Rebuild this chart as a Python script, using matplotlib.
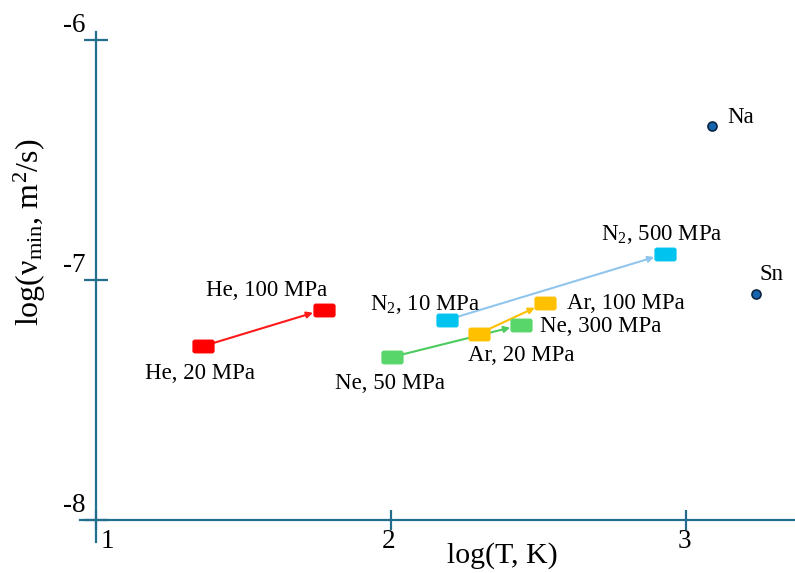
import matplotlib
matplotlib.use('Agg')
import matplotlib.pyplot as plt
import matplotlib.transforms as mtransforms
from matplotlib.path import Path

# data
start_logT = [1.365, 2.190, 2.002, 2.298]   # He 20, N2 10, Ne 50, Ar 20 MPa
start_lognu = [-7.274, -7.165, -7.320, -7.222]
end_logT = [1.772, 2.927, 2.440, 2.521]     # He 100, N2 500, Ne 300, Ar 100 MPa
end_lognu = [-7.122, -6.890, -7.186, -7.095]
start_labels = ['He, 20 MPa', 'N$_\\mathrm{2}$, 10 MPa', 'Ne, 50 MPa', 'Ar, 20 MPa']
end_labels = ['He, 100 MPa', 'N$_\\mathrm{2}$, 500 MPa', 'Ne, 300 MPa', 'Ar, 100 MPa']
metals = ['Na', 'Sn']
metal_logT = [3.086, 3.235]
metal_lognu = [-6.357, -7.057]
x_ticks = [1, 2, 3]
y_ticks = [-8, -7, -6]

# styles
marker_colors = ['#ff0000', '#00c3f0', '#58d66a', '#ffc000']
arrow_colors = ['#ff1a1a', '#90c6ee', '#4ccb5e', '#ffc000']
axis_color = '#236e8e'
# label placement, offsets in pixels (ha, dx, dy)
start_pos = [('center', -3, -27), ('center', -22, 15), ('center', -2, -26), ('center', 42, -22)]
end_pos = [('center', -57, 19), ('center', -3, 19), ('left', 19, -2), ('left', 22, 0)]
metal_pos = [('left', 15, 8), ('left', 4, 19)]

plt.rcParams['font.family'] = ['Liberation Serif', 'DejaVu Serif']
plt.rcParams['mathtext.fontset'] = 'custom'
plt.rcParams['mathtext.rm'] = 'Liberation Serif'
plt.rcParams['mathtext.it'] = 'Liberation Serif:italic'

fig = plt.figure(figsize=(7.95, 5.73), dpi=100)
ax = fig.add_axes([0, 0, 1, 1])
ax.set_xlim(0.6768, 3.3672)
ax.set_ylim(-8.2196, -5.832)
ax.patch.set_alpha(0)

for s in ['top', 'right']:
    ax.spines[s].set_visible(False)
ax.spines['left'].set_position(('data', 1))
ax.spines['bottom'].set_position(('data', -8))
ax.spines['left'].set_bounds(-8.09, -5.965)
ax.spines['bottom'].set_bounds(0.9475, 3.3672)
for s in ['left', 'bottom']:
    ax.spines[s].set_color(axis_color)
    ax.spines[s].set_linewidth(1.6)

ax.set_xticks(x_ticks)
ax.set_xticklabels([str(t) for t in x_ticks])
ax.set_yticks(y_ticks)
ax.set_yticklabels([str(t) for t in y_ticks])
ax.tick_params(axis='y', direction='inout', length=17.3, width=1.6, color=axis_color, labelsize=19.5, pad=3)
ax.tick_params(axis='x', direction='inout', length=14.4, width=1.6, color=axis_color, labelsize=19.5, pad=3)

def shift(dx, dy):
    return mtransforms.ScaledTranslation(dx / 100, dy / 100, fig.dpi_scale_trans)

for lab in ax.get_yticklabels():
    lab.set_transform(lab.get_transform() + shift(6, 18))
for lab, t in zip(ax.get_xticklabels(), x_ticks):
    dx = 12 if t == 1 else -2
    lab.set_transform(lab.get_transform() + shift(dx, 5))

# rounded-ish rectangle marker
w, h, r = 1.0, 0.6, 0.12
verts = [(-w + r, -h), (w - r, -h), (w, -h + r), (w, h - r), (w - r, h),
         (-w + r, h), (-w, h - r), (-w, -h + r), (-w + r, -h)]
rect = Path(verts)

for i in range(len(start_logT)):
    ax.annotate('', xy=(end_logT[i], end_lognu[i]), xytext=(start_logT[i], start_lognu[i]),
                arrowprops=dict(arrowstyle='-|>', color=arrow_colors[i], lw=1.5,
                                shrinkA=7, shrinkB=8, mutation_scale=9), zorder=2)
    ax.plot([start_logT[i], end_logT[i]], [start_lognu[i], end_lognu[i]], linestyle='none',
            marker=rect, markersize=15, color=marker_colors[i], zorder=3)
    ha, dx, dy = start_pos[i]
    ax.annotate(start_labels[i], (start_logT[i], start_lognu[i]), xytext=(dx, dy),
                textcoords='offset pixels', ha=ha, va='center', fontsize=16.5)
    ha, dx, dy = end_pos[i]
    ax.annotate(end_labels[i], (end_logT[i], end_lognu[i]), xytext=(dx, dy),
                textcoords='offset pixels', ha=ha, va='center', fontsize=16.5)

ax.plot(metal_logT, metal_lognu, linestyle='none', marker='o', markersize=6.5,
        markerfacecolor='#1565b0', markeredgecolor='#0a2540', markeredgewidth=1.2, zorder=3)
for i, m in enumerate(metals):
    ha, dx, dy = metal_pos[i]
    ax.annotate(m, (metal_logT[i], metal_lognu[i]), xytext=(dx, dy),
                textcoords='offset pixels', ha=ha, va='center', fontsize=16.5)

fig.text(502 / 795, 1 - 556 / 573, 'log(T, K)', ha='center', va='center', fontsize=21.5)
fig.text(30 / 795, 1 - 232 / 573, 'log(ν$_\\mathrm{min}$, m$^\\mathrm{2}$/s)', ha='center', va='center',
         rotation=90, fontsize=23)

fig.savefig('out.png', dpi=100)
